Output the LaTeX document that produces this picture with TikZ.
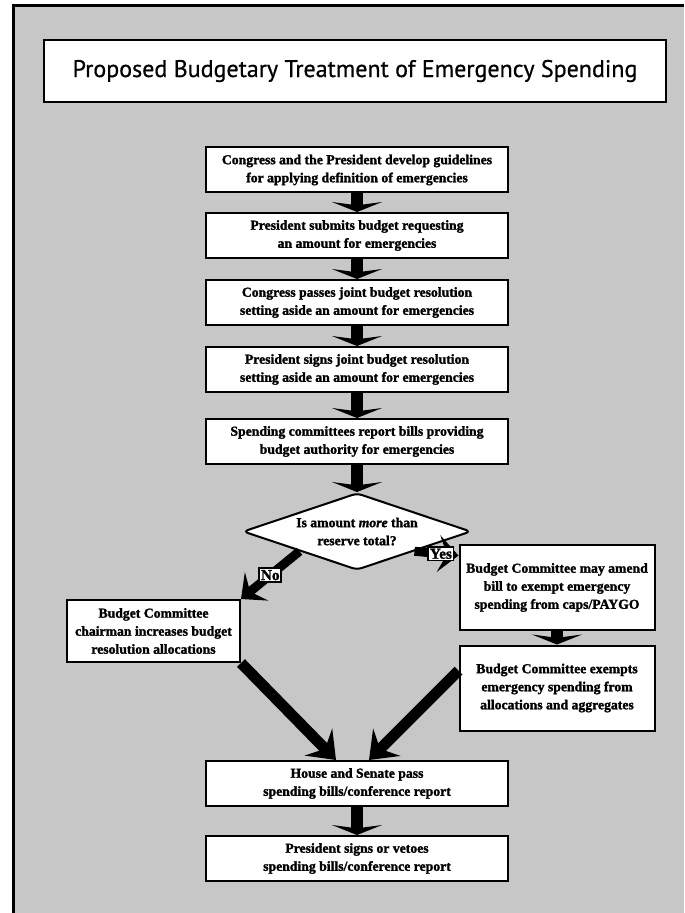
\documentclass[tikz,border=0pt]{standalone}
\usepackage{fontspec}
\setmainfont{Liberation Serif}[BoldFeatures={FakeBold=1.6}, BoldItalicFeatures={FakeBold=1.6}]
\newfontfamily\titlefont{PT Sans}[FakeBold=0.6]
\usetikzlibrary{shapes.geometric,arrows.meta,positioning,calc}

\begin{document}
\begin{tikzpicture}[x=0.3mm, y=-0.3mm,
  stepbox/.style={rectangle, draw, line width=0.6mm, fill=white, align=center, inner sep=2pt, font=\fontsize{11.7}{15.4}\selectfont\bfseries},
  mainbox/.style={stepbox, minimum width=90.6mm, minimum height=13.5mm},
  sidebox/.style={stepbox, minimum width=58.5mm, minimum height=25.5mm},
  test/.style={diamond, draw, line width=0.6mm, fill=white, rounded corners=1.5mm, align=center, inner sep=0pt, aspect=3, minimum width=68.4mm, minimum height=23.1mm, font=\fontsize{11.7}{15.4}\selectfont\bfseries},
  answer/.style={draw, fill=white, line width=0.5mm, inner sep=1.5pt, font=\fontsize{13}{14}\selectfont\bfseries},
  down/.style={line width=3.5mm, -{Stealth[width=15mm,length=3mm,inset=1mm]}},
  slant/.style={line width=3.3mm, -{Stealth[width=11.5mm,length=7.5mm,inset=2.8mm]}},
  branch/.style={line width=2.7mm, -{Stealth[width=11mm,length=6mm,inset=2.5mm]}}]
\useasboundingbox (0,0) rectangle (684,913);
\fill[black!22] (13,6) rectangle (684,913);
\draw[line width=0.9mm] (13,913) -- (13,6) -- (684,6);

% title
\node[draw, line width=0.7mm, fill=white, minimum width=186.6mm, minimum height=18.6mm, font=\titlefont\fontsize{20.5}{24}\selectfont] (title) at (355,71) {Proposed Budgetary Treatment of Emergency Spending};

% main column
\node[mainbox] (guide) at (357,170) {Congress and the President develop guidelines\\for applying definition of emergencies};
\node[mainbox] (submit) at (357,235.5) {President submits budget requesting\\an amount for emergencies};
\node[mainbox] (passes) at (357,302.5) {Congress passes joint budget resolution\\setting aside an amount for emergencies};
\node[mainbox] (signs) at (357,369.5) {President signs joint budget resolution\\setting aside an amount for emergencies};
\node[mainbox] (report) at (357,441.5) {Spending committees report bills providing\\budget authority for emergencies};
\node[test] (more) at (357,531.5) {Is amount \textit{more} than\\reserve total?};

% branches
\node[stepbox, minimum width=51.9mm, minimum height=18.6mm] (raise) at (153.5,631) {Budget Committee\\chairman increases budget\\resolution allocations};
\node[sidebox] (amend) at (557,587.5) {Budget Committee may amend\\bill to exempt emergency\\spending from caps/PAYGO};
\node[sidebox] (exempt) at (557,688) {Budget Committee exempts\\emergency spending from\\allocations and aggregates};

% bottom
\node[mainbox] (house) at (357,783.5) {House and Senate pass\\spending bills/conference report};
\node[mainbox] (veto) at (357,858.5) {President signs or vetoes\\spending bills/conference report};

\draw[down] (guide) -- (submit);
\draw[down] (submit) -- (passes);
\draw[down] (passes) -- (signs);
\draw[down] (signs) -- (report);
\draw[down] (report) -- (more);
\draw[branch] (more.south west) -- (raise.north east) node[answer, pos=0.5] {No};
\draw[branch] (more.south east) -- (amend.162) node[answer, pos=0.6] {Yes};
\draw[down] (amend) -- (exempt);
\draw[slant] (raise.south east) -- ([xshift=-6.3mm]house.north);
\draw[slant] (exempt.170) -- ([xshift=3.6mm]house.north);
\draw[down] (house) -- (veto);
\end{tikzpicture}
\end{document}
